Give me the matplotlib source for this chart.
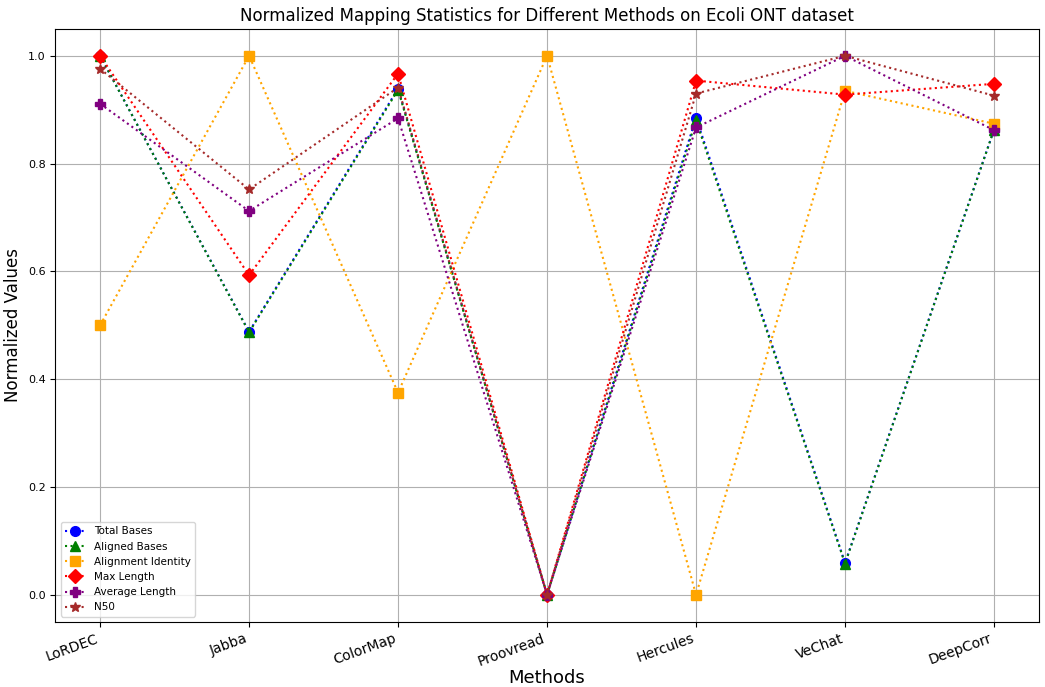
import matplotlib.pyplot as plt

methods = ['LoRDEC', 'Jabba', 'ColorMap', 'Proovread', 'Hercules', 'VeChat', 'DeepCorr']

total_bases = [1.0, 0.488, 0.939, 0.0, 0.885, 0.059, 0.863]
aligned_bases = [1.0, 0.487, 0.937, 0.0, 0.880, 0.058, 0.863]
alignment_identity = [0.5, 1.0, 0.375, 1.0, 0.0, 0.935, 0.874]
max_length = [1.0, 0.593, 0.967, 0.0, 0.954, 0.928, 0.948]
average_length = [0.911, 0.712, 0.884, 0.0, 0.867, 1.0, 0.862]
n50 = [0.976, 0.752, 0.941, 0.0, 0.930, 1.0, 0.926]

series = [
    ('Total Bases', total_bases, 'o', 'blue'),
    ('Aligned Bases', aligned_bases, '^', 'green'),
    ('Alignment Identity', alignment_identity, 's', 'orange'),
    ('Max Length', max_length, 'D', 'red'),
    ('Average Length', average_length, 'P', 'purple'),
    ('N50', n50, '*', 'brown'),
]

fig, ax = plt.subplots(figsize=(10.45, 6.87), dpi=100)

for label, values, marker, color in series:
    ax.plot(methods, values, linestyle=':', marker=marker, color=color,
            label=label, markersize=7)

ax.set_title('Normalized Mapping Statistics for Different Methods on Ecoli ONT dataset', fontsize=12)
ax.set_xlabel('Methods', fontsize=13, labelpad=0)
ax.set_ylabel('Normalized Values', fontsize=12)
plt.xticks(rotation=20, ha='right', fontsize=10)
plt.yticks(fontsize=8)
ax.grid(True)
ax.legend(loc='lower left', fontsize=7.5)

plt.subplots_adjust(left=0.053, right=0.994, top=0.958, bottom=0.095)
plt.savefig('out.png')
